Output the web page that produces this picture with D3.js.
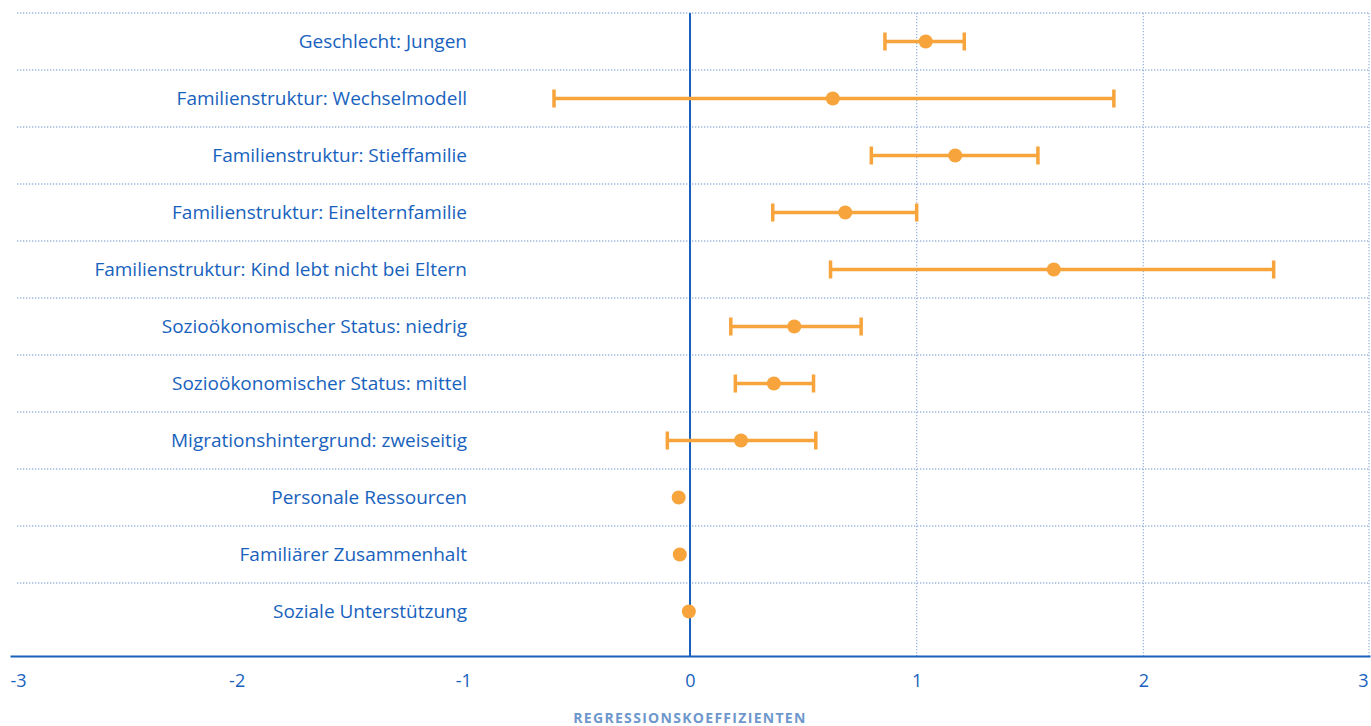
<!DOCTYPE html>
<html>
<head>
<meta charset="utf-8">
<script src="https://cdn.jsdelivr.net/npm/d3@7"></script>
<style>
  body { margin: 0; background: #fff; }
  svg { display: block; font-family: 'Open Sans', sans-serif; }
</style>
</head>
<body>
<svg id="chart" width="1371" height="726"></svg>
<script>
// categories, top to bottom
const categories = [
    'Geschlecht: Jungen',
    'Familienstruktur: Wechselmodell',
    'Familienstruktur: Stieffamilie',
    'Familienstruktur: Einelternfamilie',
    'Familienstruktur: Kind lebt nicht bei Eltern',
    'Sozioökonomischer Status: niedrig',
    'Sozioökonomischer Status: mittel',
    'Migrationshintergrund: zweiseitig',
    'Personale Ressourcen',
    'Familiärer Zusammenhalt',
    'Soziale Unterstützung'
]
const estimates = [1.04, 0.63, 1.17, 0.685, 1.605, 0.46, 0.37, 0.225, -0.05, -0.045, -0.005]
const lower = [0.86, -0.60, 0.80, 0.365, 0.62, 0.18, 0.20, -0.10, null, null, null]
const upper = [1.21, 1.87, 1.535, 1.00, 2.575, 0.755, 0.545, 0.555, null, null, null]
const xTicks = [-3, -2, -1, 0, 1, 2, 3]
const axisTitle = 'REGRESSIONSKOEFFIZIENTEN'

const blue = '#1862bd', orange = '#f6a43b', grid = '#9cb6de'

const data = categories.map((c, i) => ({ cat: c, est: estimates[i], lo: lower[i], hi: upper[i] }))

const svg = d3.select('#chart')
const yTop = 13, yBottom = 656
const xScale = d3.scaleLinear().domain([-3, 3]).range([10, 1370])
const yScale = d3.scaleBand().domain(categories).range([yTop, 640]).padding(0)

// horizontal dotted separators (one above each row)
svg.append('g').selectAll('line.sep')
    .data(categories)
    .enter()
    .append('line')
    .attr('class', 'sep')
    .attr('x1', 17).attr('x2', 1370)
    .attr('y1', d => yScale(d)).attr('y2', d => yScale(d))
    .style('stroke', grid)
    .style('stroke-width', 1.3)
    .style('stroke-dasharray', '1.3 1.7')

// vertical dotted gridlines (positive side only)
svg.append('g').selectAll('line.vgrid')
    .data([1, 2, 3])
    .enter()
    .append('line')
    .attr('class', 'vgrid')
    .attr('x1', d => xScale(d) - (d === 3 ? 1 : 0)).attr('x2', d => xScale(d) - (d === 3 ? 1 : 0))
    .attr('y1', yTop).attr('y2', yBottom)
    .style('stroke', grid)
    .style('stroke-width', 1.3)
    .style('stroke-dasharray', '1.3 1.7')

// x axis
const xAxis = d3.axisBottom(xScale).tickValues(xTicks).tickSize(0).tickPadding(18)
    .tickFormat(d => d)
const xAxisG = svg.append('g').attr('transform', `translate(0,${yBottom})`).call(xAxis)
xAxisG.select('.domain').style('stroke', blue).style('stroke-width', 2)
xAxisG.selectAll('text')
    .style('fill', blue)
    .style('font-size', '18px')
    .style('font-family', "'Open Sans', sans-serif")
    .attr('text-anchor', d => d === 3 ? 'end' : d === -3 ? 'start' : 'middle')
    .attr('dx', d => d === 3 ? -2 : 0)

// zero line
svg.append('line')
    .attr('x1', xScale(0)).attr('x2', xScale(0))
    .attr('y1', yTop).attr('y2', yBottom)
    .style('stroke', blue)
    .style('stroke-width', 2)

// category labels
svg.append('g').selectAll('text.cat')
    .data(categories)
    .enter()
    .append('text')
    .attr('class', 'cat')
    .attr('x', 467)
    .attr('y', d => yScale(d) + yScale.bandwidth() / 2)
    .attr('dy', '0.35em')
    .attr('text-anchor', 'end')
    .style('fill', blue)
    .style('font-size', '19px')
    .text(d => d)

// error bars
const withCI = data.filter(d => d.lo !== null)
const cy = d => yScale(d.cat) + yScale.bandwidth() / 2
svg.append('g').selectAll('line.ci')
    .data(withCI)
    .enter()
    .append('line')
    .attr('class', 'ci')
    .attr('x1', d => xScale(d.lo)).attr('x2', d => xScale(d.hi))
    .attr('y1', cy).attr('y2', cy)
    .style('stroke', orange)
    .style('stroke-width', 3.5)

const caps = []
withCI.forEach(d => { caps.push({ v: d.lo, d }); caps.push({ v: d.hi, d }) })
svg.append('g').selectAll('line.cap')
    .data(caps)
    .enter()
    .append('line')
    .attr('class', 'cap')
    .attr('x1', c => xScale(c.v)).attr('x2', c => xScale(c.v))
    .attr('y1', c => cy(c.d) - 9).attr('y2', c => cy(c.d) + 9)
    .style('stroke', orange)
    .style('stroke-width', 3.5)

// points
svg.append('g').selectAll('circle.est')
    .data(data)
    .enter()
    .append('circle')
    .attr('class', 'est')
    .attr('r', 7)
    .attr('cx', d => xScale(d.est))
    .attr('cy', cy)
    .style('fill', orange)

// axis title
svg.append('text')
    .attr('x', xScale(0))
    .attr('y', 723)
    .attr('text-anchor', 'middle')
    .style('fill', '#6e97cc')
    .style('font-size', '14px')
    .style('font-weight', 'bold')
    .style('letter-spacing', '1.3px')
    .text(axisTitle)
</script>
</body>
</html>
